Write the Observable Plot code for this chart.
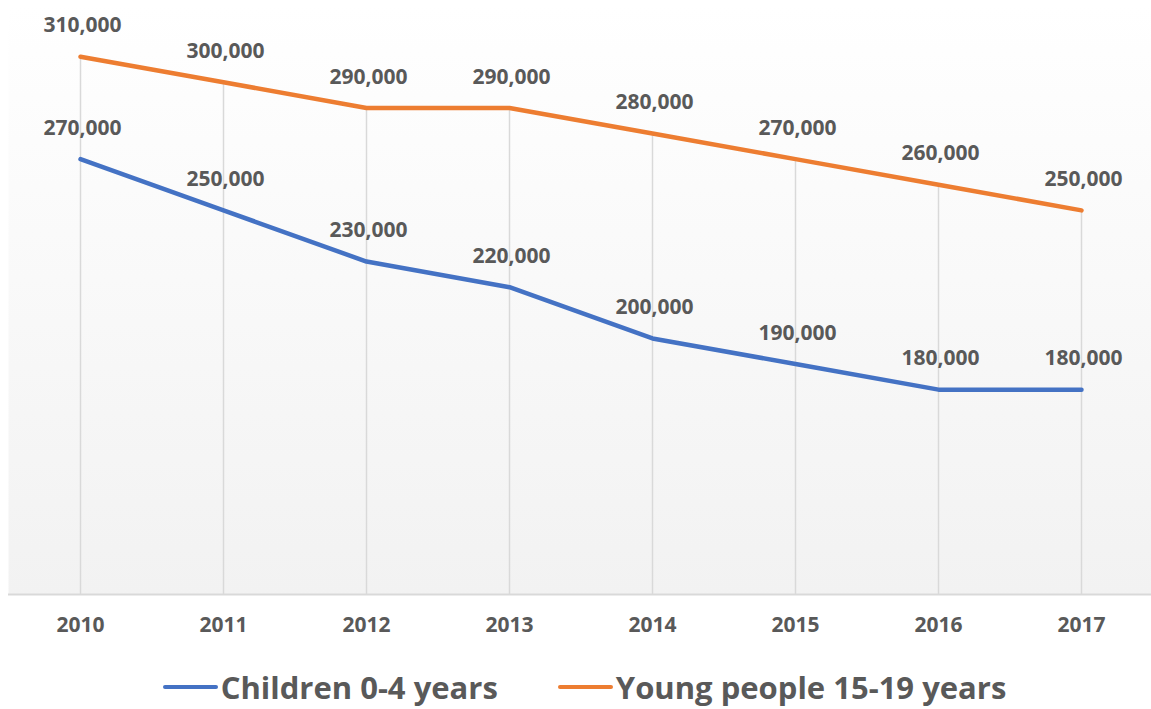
<!DOCTYPE html>
<html>
<head>
<meta charset="utf-8">
<script src="https://cdn.jsdelivr.net/npm/d3@7"></script>
<script src="https://cdn.jsdelivr.net/npm/@observablehq/plot@0.6"></script>
<style>
  html, body { margin: 0; padding: 0; background: #ffffff; }
  body { width: 1151px; height: 709px; overflow: hidden; font-family: "Open Sans", Lato, sans-serif; }
  #legend { display: flex; justify-content: center; align-items: center; margin-top: 22px; padding-left: 18px; gap: 60px; font-weight: 700; font-size: 31px; color: #595959; line-height: 40px; }
  .item { display: flex; align-items: center; }
  .sw { width: 55px; height: 4.5px; border-radius: 3px; margin-right: 3px; }
</style>
</head>
<body>
<div id="chart"></div>
<div id="legend"></div>
<script>
const years = [2010, 2011, 2012, 2013, 2014, 2015, 2016, 2017];
const children = [270000, 250000, 230000, 220000, 200000, 190000, 180000, 180000];
const young = [310000, 300000, 290000, 290000, 280000, 270000, 260000, 250000];
const seriesNames = ["Children 0-4 years", "Young people 15-19 years"];
const seriesColors = ["#4472C4", "#ED7D31"];

const rows = [];
years.forEach((y, i) => {
  rows.push({year: y, value: children[i], series: seriesNames[0]});
  rows.push({year: y, value: young[i], series: seriesNames[1]});
});
const youngRows = rows.filter(d => d.series === seriesNames[1]);
const fmt = d3.format(",");

const plot = Plot.plot({
  width: 1151,
  height: 645,
  marginLeft: 8,
  marginRight: -2,
  marginTop: 5,
  marginBottom: 51,
  style: {fontFamily: "'Open Sans', Lato, sans-serif", background: "transparent"},
  x: {type: "point", domain: years, padding: 0.5, label: null},
  y: {domain: [100000, 330000], axis: null},
  color: {domain: seriesNames, range: seriesColors},
  marks: [
    Plot.frame({fill: "url(#bg)", stroke: "none"}),
    Plot.ruleX(youngRows, {x: "year", y1: 100000, y2: "value", stroke: "#d9d9d9", strokeWidth: 1.5}),
    Plot.ruleY([100000], {stroke: "#d9d9d9", strokeWidth: 2}),
    Plot.axisX({tickSize: 0, tickPadding: 23, tickFormat: d => String(d), fontSize: 21, fontWeight: 700, fill: "#595959", label: null}),
    Plot.line(rows, {x: "year", y: "value", z: "series", stroke: "series", strokeWidth: 4.5, strokeLinecap: "round", strokeLinejoin: "round"}),
    Plot.text(rows, {x: "year", y: "value", text: d => fmt(d.value), dy: -31, dx: 2, fontSize: 21, fontWeight: 700, fill: "#595959"})
  ]
});

const svg = d3.select(plot);
const defs = svg.insert("defs", ":first-child");
const g = defs.append("linearGradient").attr("id", "bg").attr("x1", 0).attr("y1", 0).attr("x2", 0).attr("y2", 1);
g.append("stop").attr("offset", "0%").attr("stop-color", "#ffffff");
g.append("stop").attr("offset", "100%").attr("stop-color", "#f2f2f2");

document.getElementById("chart").appendChild(plot);

const legend = d3.select("#legend");
seriesNames.forEach((name, i) => {
  const item = legend.append("div").attr("class", "item");
  item.append("div").attr("class", "sw").style("background", seriesColors[i]);
  item.append("span").text(name);
});
</script>
</body>
</html>
